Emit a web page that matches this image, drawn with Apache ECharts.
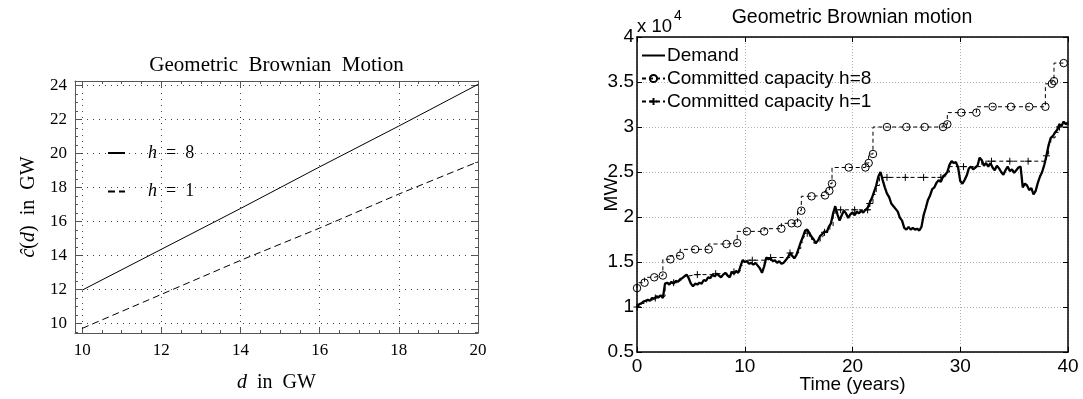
<!DOCTYPE html>
<html><head><meta charset="utf-8">
<script src="https://cdn.jsdelivr.net/npm/echarts@6/dist/echarts.min.js"></script>
<style>html,body{margin:0;padding:0;background:#fff}#c{width:1083px;height:399px}</style>
</head><body><div id="c"></div>
<script>
// ---------- Left chart: c-hat(d) vs d ----------
const dGW = [10, 12, 14, 16, 18, 20];
const cHatH8 = [11.95, 14.35, 16.75, 19.2, 21.6, 24.05];
const cHatH1 = [9.7, 11.7, 13.7, 15.6, 17.6, 19.5];
const leftXTicks = [10, 12, 14, 16, 18, 20];
const leftXMinor = [10.5, 11, 11.5, 12.5, 13, 13.5, 14.5, 15, 15.5, 16.5, 17, 17.5, 18.5, 19, 19.5];
const leftYTicks = [10, 12, 14, 16, 18, 20, 22, 24];
const leftYMinor = [9.5, 10.5, 11, 11.5, 12.5, 13, 13.5, 14.5, 15, 15.5, 16.5, 17, 17.5, 18.5, 19, 19.5, 20.5, 21, 21.5, 22.5, 23, 23.5];

// ---------- Right chart: simulated demand and capacity (units of 10^4 MW) ----------
const demandYears = [0,0.2,0.4,0.6,0.8,1,1.2,1.4,1.6,1.8,2,2.2,2.4,2.6,2.8,3,3.2,3.4,3.6,3.8,4,4.2,4.4,4.6,4.8,5,5.2,5.4,5.6,5.8,6,6.2,6.4,6.6,6.8,7,7.2,7.4,7.6,7.8,8,8.2,8.4,8.6,8.8,9,9.2,9.4,9.6,9.8,10,10.2,10.4,10.6,10.8,11,11.2,11.4,11.6,11.8,12,12.2,12.4,12.6,12.8,13,13.2,13.4,13.6,13.8,14,14.2,14.4,14.6,14.8,15,15.2,15.4,15.6,15.8,16,16.2,16.4,16.6,16.8,17,17.2,17.4,17.6,17.8,18,18.2,18.4,18.6,18.8,19,19.2,19.4,19.6,19.8,20,20.2,20.4,20.6,20.8,21,21.2,21.4,21.6,21.8,22,22.2,22.4,22.6,22.8,23,23.2,23.4,23.6,23.8,24,24.2,24.4,24.6,24.8,25,25.2,25.4,25.6,25.8,26,26.2,26.4,26.6,26.8,27,27.2,27.4,27.6,27.8,28,28.2,28.4,28.6,28.8,29,29.2,29.4,29.6,29.8,30,30.2,30.4,30.6,30.8,31,31.2,31.4,31.6,31.8,32,32.2,32.4,32.6,32.8,33,33.2,33.4,33.6,33.8,34,34.2,34.4,34.6,34.8,35,35.2,35.4,35.6,35.8,36,36.2,36.4,36.6,36.8,37,37.2,37.4,37.6,37.8,38,38.2,38.4,38.6,38.8,39,39.2,39.4,39.6,39.8,40];
const demandMW = [1.00,1.03,1.04,1.06,1.07,1.08,1.07,1.10,1.09,1.12,1.11,1.13,1.10,1.26,1.27,1.25,1.28,1.26,1.29,1.28,1.31,1.32,1.34,1.36,1.32,1.26,1.23,1.26,1.25,1.27,1.26,1.30,1.29,1.33,1.32,1.36,1.34,1.37,1.35,1.33,1.36,1.38,1.35,1.33,1.39,1.37,1.40,1.38,1.45,1.52,1.50,1.51,1.48,1.49,1.47,1.49,1.46,1.43,1.38,1.45,1.55,1.53,1.54,1.51,1.52,1.49,1.51,1.48,1.49,1.52,1.55,1.60,1.57,1.54,1.58,1.65,1.72,1.78,1.85,1.86,1.82,1.78,1.75,1.71,1.74,1.79,1.81,1.84,1.83,1.89,1.93,2.04,2.12,2.03,1.96,2.02,2.07,2.04,1.99,2.03,2.05,2.02,2.06,2.04,2.07,2.05,2.08,2.10,2.16,2.21,2.28,2.35,2.45,2.50,2.41,2.33,2.26,2.22,2.15,2.12,2.09,2.06,1.99,1.96,1.88,1.86,1.89,1.86,1.88,1.86,1.87,1.85,1.89,2.02,2.10,2.19,2.24,2.31,2.33,2.38,2.41,2.39,2.45,2.47,2.50,2.58,2.62,2.60,2.61,2.55,2.40,2.37,2.41,2.46,2.54,2.56,2.53,2.55,2.57,2.66,2.63,2.57,2.60,2.56,2.60,2.55,2.52,2.57,2.54,2.50,2.47,2.52,2.56,2.51,2.53,2.49,2.52,2.55,2.56,2.33,2.37,2.35,2.30,2.32,2.25,2.29,2.38,2.45,2.50,2.58,2.68,2.80,2.88,2.90,2.94,2.97,3.03,3.01,3.06,3.03,3.05];

const h8Years = [0,0.7,1.6,2.4,3.1,4.0,5.4,6.65,8.3,9.3,10.2,11.8,13.4,14.35,14.9,15.25,16.2,17.45,17.85,18.1,19.65,21.2,21.5,21.9,23.2,25.0,26.7,28.4,28.8,30.1,31.5,33.0,34.7,36.4,37.9,38.5,38.7,39.6];
const h8Cap = [1.21,1.27,1.33,1.35,1.53,1.57,1.64,1.64,1.70,1.71,1.84,1.84,1.87,1.93,1.93,2.07,2.23,2.24,2.29,2.37,2.55,2.55,2.60,2.70,3.00,3.00,3.00,3.00,3.03,3.16,3.16,3.225,3.225,3.225,3.225,3.48,3.51,3.71];

const h1Years = [0,0.4,0.9,1.4,1.7,1.8,2.6,2.8,3.4,3.6,4.0,4.3,4.5,5.6,7.0,7.3,8.2,8.8,9.0,9.2,9.6,9.8,10.7,12.0,12.4,14.2,15.0,15.2,15.4,15.6,15.8,16.0,16.2,16.4,16.8,17.0,17.2,17.4,17.7,17.9,18.2,18.4,18.9,20.2,21.4,21.6,21.9,22.2,22.5,23.2,24.9,26.6,28.2,28.6,28.8,29.0,30.3,32.0,32.9,34.6,36.3,38.0,38.2,38.4,38.8,39.2,40.0];
const h1Cap = [1.00,1.04,1.07,1.10,1.10,1.12,1.26,1.27,1.27,1.29,1.31,1.34,1.36,1.36,1.37,1.37,1.38,1.39,1.39,1.40,1.46,1.52,1.52,1.55,1.55,1.60,1.65,1.72,1.78,1.84,1.82,1.78,1.75,1.71,1.73,1.78,1.80,1.83,1.86,1.90,2.04,2.08,2.08,2.08,2.08,2.15,2.25,2.35,2.44,2.44,2.44,2.44,2.44,2.47,2.50,2.56,2.56,2.62,2.62,2.62,2.62,2.68,2.80,2.88,2.94,3.00,3.00];
const h1Mark = [1,0,0,0,1,0,0,0,1,0,0,0,0,1,0,1,0,0,1,0,0,0,1,0,1,1,0,0,0,0,1,0,0,0,0,0,0,1,0,0,0,0,1,1,1,1,0,0,0,1,1,1,1,0,0,0,1,0,1,1,1,1,0,0,0,1,0];

const serif = 'Liberation Serif';
const sans = 'Liberation Sans';
const frameGray = '#555';
const plusPath = 'path://M0,5L10,5M5,0L5,10';
const clear = 'rgba(0,0,0,0)';

function leftAxis(gridIndex, position, min, max, ticks, len, extra) {
  return Object.assign({
    type: 'value', gridIndex: gridIndex, position: position, min: min, max: max,
    axisLine: {show: true, onZero: false, lineStyle: {color: frameGray, width: 1}},
    axisTick: {show: true, inside: true, length: len, customValues: ticks, lineStyle: {color: frameGray, width: 1}},
    axisLabel: {show: false},
    splitLine: {show: false}
  }, extra || {});
}
function rightAxis(position, min, max, interval, extra) {
  return Object.assign({
    type: 'value', gridIndex: 2, position: position, min: min, max: max, interval: interval,
    axisLine: {show: true, onZero: false, lineStyle: {color: '#000', width: 1.5}},
    axisTick: {show: true, inside: true, length: 5, lineStyle: {color: '#000', width: 1}},
    axisLabel: {show: false},
    splitLine: {show: false}
  }, extra || {});
}

const leftLabel = {fontFamily: serif, fontSize: 17, color: '#000'};
const rightLabel = {fontFamily: sans, fontSize: 19, color: '#000'};

const option = {
  animation: false,
  backgroundColor: '#fff',
  grid: [
    {left: 75, top: 81, width: 403, height: 252, containLabel: false, outerBoundsMode: 'none'},
    {left: 75, top: 81, width: 403, height: 252, containLabel: false, outerBoundsMode: 'none'},
    {left: 637, top: 37, width: 431, height: 315, containLabel: false, outerBoundsMode: 'none'}
  ],
  graphic: [
    {type: 'text', x: 276.5, y: 65, style: {text: 'Geometric  Brownian  Motion', fontFamily: serif, fontSize: 21, fill: '#000', align: 'center', verticalAlign: 'middle'}},
    {type: 'text', x: 852, y: 18, style: {text: 'Geometric Brownian motion', fontFamily: sans, fontSize: 19.5, fill: '#000', align: 'center', verticalAlign: 'middle'}},
    {type: 'text', x: 637, y: 27, style: {text: 'x 10', fontFamily: sans, fontSize: 18.5, fill: '#000', align: 'left', verticalAlign: 'middle'}},
    {type: 'text', x: 674, y: 16, style: {text: '4', fontFamily: sans, fontSize: 14, fill: '#000', align: 'left', verticalAlign: 'middle'}}
  ],
  legend: [
    {
      data: ['h = 8', 'h = 1'], orient: 'vertical', left: 102, top: 139,
      itemWidth: 17, itemHeight: 14, itemGap: 20.5, selectedMode: false,
      formatter: function (n) { return n === 'h = 8' ? '{i|h}  =  8' : '{i|h}  =  1'; },
      textStyle: {fontFamily: serif, fontSize: 18, color: '#000', padding: [0, 0, 0, 18],
        rich: {i: {fontFamily: serif, fontSize: 18, fontStyle: 'italic', color: '#000'}}}
    },
    {
      data: ['Demand', 'Committed capacity h=8', 'Committed capacity h=1'], orient: 'vertical',
      left: 636, top: 41, itemWidth: 23, itemHeight: 9, itemGap: 4, selectedMode: false,
      textStyle: {fontFamily: sans, fontSize: 19, color: '#000', padding: [0, 0, 0, -3]}
    }
  ],
  xAxis: [
    leftAxis(0, 'bottom', 9.82, 20, leftXTicks, 6, {
      axisLabel: Object.assign({show: true, customValues: leftXTicks, margin: 9}, leftLabel),
      splitLine: {show: true, lineStyle: {color: '#444', type: [1, 5], width: 1}},
      name: '{i|d}  in  GW', nameLocation: 'middle', nameGap: 40, nameMoveOverlap: false,
      nameTextStyle: {fontFamily: serif, fontSize: 20, color: '#000', rich: {i: {fontFamily: serif, fontSize: 20, fontStyle: 'italic', color: '#000'}}}
    }),
    leftAxis(0, 'top', 9.82, 20, leftXTicks, 6),
    leftAxis(1, 'bottom', 9.82, 20, leftXMinor, 3, {axisLine: {show: false}}),
    leftAxis(1, 'top', 9.82, 20, leftXMinor, 3, {axisLine: {show: false}}),
    rightAxis('bottom', 0, 40, 10, {
      axisLabel: Object.assign({show: true, margin: 5}, rightLabel),
      splitLine: {show: true, lineStyle: {color: '#b0b0b0', type: [1, 2], width: 1}},
      name: 'Time (years)', nameLocation: 'middle', nameGap: 23, nameMoveOverlap: false,
      nameTextStyle: {fontFamily: sans, fontSize: 19, color: '#000'}
    }),
    rightAxis('top', 0, 40, 10)
  ],
  yAxis: [
    leftAxis(0, 'left', 9.43, 24.25, leftYTicks, 6, {
      axisLabel: Object.assign({show: true, customValues: leftYTicks, margin: 8}, leftLabel),
      splitLine: {show: true, lineStyle: {color: '#444', type: [1, 5], width: 1}},
      name: '{i|ĉ}({i|d})  in  GW', nameLocation: 'middle', nameRotate: 90, nameGap: 36, nameMoveOverlap: false,
      nameTextStyle: {fontFamily: serif, fontSize: 20, color: '#000', rich: {i: {fontFamily: serif, fontSize: 20, fontStyle: 'italic', color: '#000'}}}
    }),
    leftAxis(0, 'right', 9.43, 24.25, leftYTicks, 6),
    leftAxis(1, 'left', 9.43, 24.25, leftYMinor, 3, {axisLine: {show: false}}),
    leftAxis(1, 'right', 9.43, 24.25, leftYMinor, 3, {axisLine: {show: false}}),
    rightAxis('left', 0.5, 4, 0.5, {
      axisLabel: Object.assign({show: true, margin: 3}, rightLabel),
      splitLine: {show: true, lineStyle: {color: '#b0b0b0', type: [1, 2], width: 1}},
      name: 'MW', nameLocation: 'middle', nameRotate: 90, nameGap: 16, nameMoveOverlap: false,
      nameTextStyle: {fontFamily: sans, fontSize: 19, color: '#000'}
    }),
    rightAxis('right', 0.5, 4, 0.5)
  ],
  series: [
    {
      name: 'h = 8', type: 'line', xAxisIndex: 0, yAxisIndex: 0,
      data: dGW.map(function (d, i) { return [d, cHatH8[i]]; }),
      showSymbol: false, symbol: 'circle', itemStyle: {color: clear},
      lineStyle: {color: '#000', width: 1, type: 'solid'}, silent: true
    },
    {
      name: 'h = 1', type: 'line', xAxisIndex: 0, yAxisIndex: 0,
      data: dGW.map(function (d, i) { return [d, cHatH1[i]]; }),
      showSymbol: false, symbol: 'circle', itemStyle: {color: clear},
      lineStyle: {color: '#000', width: 1, type: [7, 4]}, silent: true
    },
    {
      name: 'Committed capacity h=1', type: 'line', xAxisIndex: 4, yAxisIndex: 4, step: 'end',
      data: h1Years.map(function (t, i) { return {value: [t, h1Cap[i]], symbol: h1Mark[i] ? plusPath : 'none'}; }),
      symbol: plusPath, symbolSize: 7, showAllSymbol: true,
      itemStyle: {color: clear, borderColor: '#000', borderWidth: 1},
      lineStyle: {color: '#000', width: 1, type: [4, 3]}, silent: true
    },
    {
      name: 'Committed capacity h=8', type: 'line', xAxisIndex: 4, yAxisIndex: 4, step: 'start',
      data: h8Years.map(function (t, i) { return [t, h8Cap[i]]; }),
      symbol: 'circle', symbolSize: 7.5, showAllSymbol: true,
      itemStyle: {color: clear, borderColor: '#000', borderWidth: 1},
      lineStyle: {color: '#000', width: 1, type: [4, 3]}, silent: true
    },
    {
      name: 'Demand', type: 'line', xAxisIndex: 4, yAxisIndex: 4,
      data: demandYears.map(function (t, i) { return [t, demandMW[i]]; }),
      showSymbol: false, symbol: 'circle', itemStyle: {color: clear},
      lineStyle: {color: '#000', width: 2.3}, silent: true
    }
  ]
};
const chart = echarts.init(document.getElementById('c'), null, {renderer: 'canvas'});
chart.setOption(option);
</script>
</body></html>
